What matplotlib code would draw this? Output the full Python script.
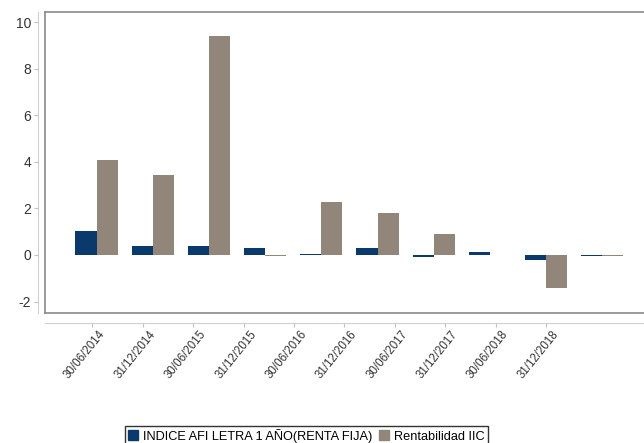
import matplotlib
matplotlib.use("Agg")
import matplotlib.pyplot as plt
import matplotlib.transforms as mtrans
import numpy as np
from matplotlib.patches import Patch

categories = ["30/06/2014", "31/12/2014", "30/06/2015", "31/12/2015", "30/06/2016",
              "31/12/2016", "30/06/2017", "31/12/2017", "30/06/2018", "31/12/2018"]
indice = [1.05, 0.40, 0.40, 0.31, 0.05, 0.30, -0.10, 0.12, -0.22, -0.05]
rentabilidad = [4.07, 3.45, 9.40, -0.05, 2.28, 1.80, 0.89, 0.0, -1.43, -0.04]
series_names = ["INDICE AFI LETRA 1 AÑO(RENTA FIJA)", "Rentabilidad IIC"]
yticks = [-2, 0, 2, 4, 6, 8, 10]

plt.rcParams['font.family'] = ['Liberation Sans', 'DejaVu Sans']

W, H = 644, 443
fig = plt.figure(figsize=(W / 100, H / 100), dpi=100)
left_px, right_px, top_px, bot_px = 45, 644, 12, 313
ax = fig.add_axes([left_px / W, 1 - bot_px / H, (right_px - left_px) / W, (bot_px - top_px) / H])

blue = "#0a3a6b"
gray = "#918679"
x = np.arange(len(categories))
bw = 0.375
ax.bar(x - bw / 2, indice, width=bw, color=blue, label=series_names[0])
ax.bar(x + bw / 2, rentabilidad, width=bw, color=gray, label=series_names[1])

px_per_unit = 56.2
x0 = -(96.5 - left_px) / px_per_unit
ax.set_xlim(x0, x0 + (right_px - left_px) / px_per_unit)
ax.set_ylim(-2.49, 10.43)

# frame
ax.spines['top'].set_color('#8a8a8a')
ax.spines['top'].set_linewidth(1.2)
ax.spines['right'].set_visible(False)
ax.plot([0, 0], [0, 1], transform=ax.transAxes, color='#8a8a8a', lw=1.2, clip_on=False)
ax.plot([0, 1], [0, 0], transform=ax.transAxes, color='#8a8a8a', lw=1.2, clip_on=False)

# offset axes
ax.spines['left'].set_position(('outward', 5))
ax.spines['left'].set_color('#d0d0d0')
ax.spines['bottom'].set_position(('outward', 7))
ax.spines['bottom'].set_color('#d0d0d0')

ax.set_yticks(yticks)
ax.set_yticklabels([str(v) for v in yticks], fontsize=10, color='#333333')
ax.tick_params(axis='y', length=3, color='#c0c0c0', pad=2)

# tick positions (misaligned category axis as in reference)
tick_start = (92.3 - left_px) / px_per_unit + x0
tick_step = 50.4 / px_per_unit
ax.set_xticks(tick_start + tick_step * x)
ax.set_xticklabels(categories, rotation=51, ha='right', rotation_mode='anchor',
                   fontsize=8.3, color='#333333')
ax.tick_params(axis='x', length=3, color='#c0c0c0', pad=1)
offset = mtrans.ScaledTranslation(6 / 100, 0, fig.dpi_scale_trans)
for lbl in ax.get_xticklabels():
    lbl.set_transform(lbl.get_transform() + offset)

leg = fig.legend(handles=[Patch(color=blue), Patch(color=gray)], labels=series_names,
                 loc='lower center', bbox_to_anchor=(0.476, -0.008), ncol=2,
                 fontsize=9.2, frameon=True, fancybox=False, edgecolor='black',
                 handlelength=0.8, handleheight=0.8, handletextpad=0.4,
                 columnspacing=0.5, borderpad=0.2, borderaxespad=0.1)
leg.get_frame().set_linewidth(1.0)

fig.savefig("out.png", dpi=100)
